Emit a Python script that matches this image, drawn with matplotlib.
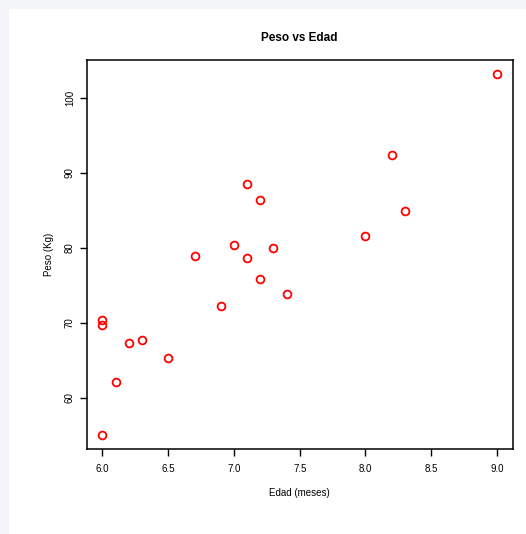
import matplotlib
matplotlib.use("Agg")
import matplotlib.pyplot as plt
from matplotlib.patches import Rectangle

plt.rcParams.update({
    "font.family": ["Liberation Sans", "DejaVu Sans"],
    "font.size": 7,
})

# edad (meses) y peso (Kg)
edad = [6.0, 6.0, 6.1, 6.0, 6.2, 6.3, 6.5, 6.7, 6.9, 7.0,
        7.1, 7.2, 7.3, 7.1, 7.2, 8.2, 8.3, 8.0, 7.4, 9.0]
peso = [70.4, 69.7, 62.1, 55.1, 67.3, 67.7, 65.3, 78.9, 72.3, 80.3,
        78.7, 75.8, 79.9, 88.5, 86.4, 92.4, 84.9, 81.5, 73.8, 103.1]

x_ticks = [6.0, 6.5, 7.0, 7.5, 8.0, 8.5, 9.0]
y_ticks = [60, 70, 80, 90, 100]

W, H = 526, 534
fig = plt.figure(figsize=(W / 100, H / 100), dpi=100, facecolor="#f4f5f9")
# white drawing panel inset from the top/left page margin
fig.add_artist(Rectangle((9 / W, 0), 1 - 9 / W, 1 - 9 / H,
                         transform=fig.transFigure, facecolor="white",
                         edgecolor="none", zorder=-10))

ax = fig.add_axes([86.7 / W, 85 / H, (512.7 - 86.7) / W, (474 - 85) / H])
ax.set_zorder(5)
ax.set_facecolor("white")

ax.plot(edad, peso, "o", ls="none", mfc="none", mec="#ff0000",
        ms=5.6, mew=1.3, clip_on=False)

# R-style axis ranges (data range padded by 4%)
xr = max(edad) - min(edad)
yr = max(peso) - min(peso)
ax.set_xlim(min(edad) - 0.04 * xr, max(edad) + 0.04 * xr)
ax.set_ylim(min(peso) - 0.04 * yr, max(peso) + 0.04 * yr)

ax.set_xticks(x_ticks)
ax.set_xticklabels([f"{v:.1f}" for v in x_ticks])
ax.set_yticks(y_ticks)
ax.set_yticklabels([str(v) for v in y_ticks], rotation=90, va="center")
ax.tick_params(direction="out", length=5, width=1, labelsize=7)
ax.tick_params(axis="x", pad=6)
ax.tick_params(axis="y", pad=3.5)

for sp in ax.spines.values():
    sp.set_linewidth(1.1)
    sp.set_color("black")

ax.set_xlabel("Edad (meses)", fontsize=7, labelpad=10)
ax.set_ylabel("Peso (Kg)", fontsize=7, labelpad=8)
ax.set_title("Peso vs Edad", fontsize=8.5, fontweight="bold", pad=14)

fig.savefig("out.png", dpi=100, facecolor=fig.get_facecolor())
